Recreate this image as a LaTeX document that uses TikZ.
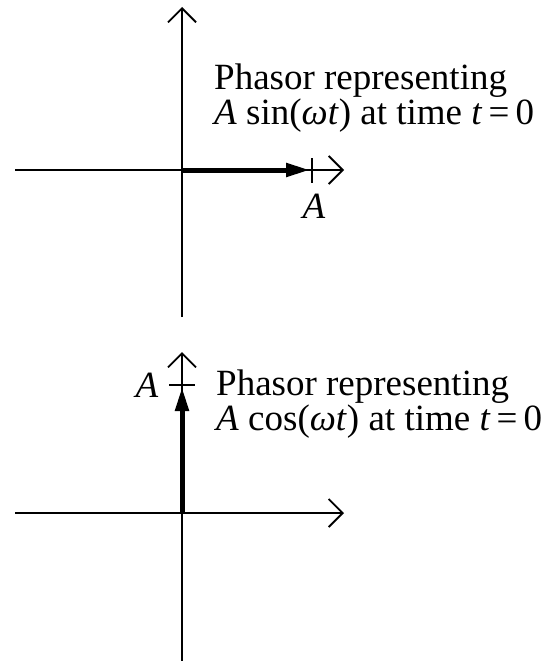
\documentclass[tikz,border=0pt]{standalone}
\usepackage{fontspec}
\setmainfont{Liberation Serif}
\usetikzlibrary{arrows.meta}
\begin{document}
\begin{tikzpicture}[x=1pt,y=-1pt,
  axisline/.style={line width=1.8pt},
  axis/.style={line width=1.8pt,-{Straight Barb[length=14pt,width=28pt,line width=1.8pt]}},
  phasor/.style={line width=5pt,-{Triangle[length=24pt,width=13pt]}},
  tick/.style={line width=1.8pt},
  txt/.style={anchor=base west,inner sep=0pt,font=\fontsize{37}{40}\selectfont},
  lbl/.style={anchor=base,inner sep=0pt,font=\fontsize{37}{40}\selectfont}]
\useasboundingbox (0,0) rectangle (555,661);
% top diagram
\coordinate (o1) at (182,170);
\coordinate (t1) at (182,7);
\coordinate (b1) at (182,317);
\coordinate (l1) at (15,170);
\coordinate (r1) at (344,170);
\coordinate (p1) at (310,170);
\coordinate (k1a) at (312,158);
\coordinate (k1b) at (312,183);
\draw[axisline] (b1) -- (o1);
\draw[axis] (o1) -- (t1);
\draw[axisline] (l1) -- (o1);
\draw[axis] (o1) -- (r1);
\draw[phasor] (o1) -- (p1);
\draw[tick] (k1a) -- (k1b);
\node[lbl] (A1) at (314,218) {\textit{A}};
\node[txt] (s1) at (214,89) {Phasor representing};
\node[txt] (s2) at (214,124) {\textit{A} sin(\textit{ωt}) at time \textit{t}\,=\,0};
% bottom diagram
\coordinate (o2) at (182,513);
\coordinate (t2) at (182,352);
\coordinate (b2) at (182,661);
\coordinate (l2) at (15,513);
\coordinate (r2) at (344,513);
\coordinate (p2) at (182,387);
\coordinate (k2a) at (169,385);
\coordinate (k2b) at (195,385);
\draw[axisline] (b2) -- (o2);
\draw[axis] (o2) -- (t2);
\draw[axisline] (l2) -- (o2);
\draw[axis] (o2) -- (r2);
\draw[phasor] (o2) -- (p2);
\draw[tick] (k2a) -- (k2b);
\node[lbl] (A2) at (147,397) {\textit{A}};
\node[txt] (c1) at (216,395) {Phasor representing};
\node[txt] (c2) at (216,430) {\textit{A} cos(\textit{ωt}) at time \textit{t}\,=\,0};
\end{tikzpicture}
\end{document}
